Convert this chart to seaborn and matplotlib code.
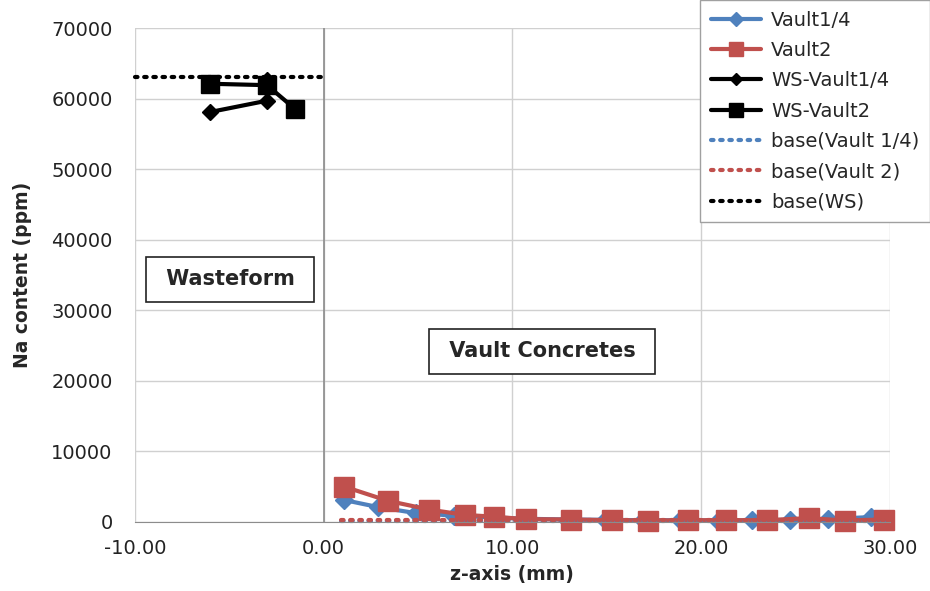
import pandas as pd
import matplotlib.pyplot as plt
import seaborn as sns
import numpy as np

# series
vault14_x = [1.1, 2.9, 4.9, 6.9, 8.9, 10.8, 12.9, 14.9, 16.9, 18.9, 20.9, 22.7, 24.7, 26.7, 29.0]
vault14_y = [3100, 2100, 1250, 900, 650, 450, 350, 300, 250, 250, 200, 250, 300, 400, 700]
vault2_x = [1.1, 3.4, 5.6, 7.5, 9.0, 10.7, 13.1, 15.3, 17.2, 19.3, 21.3, 23.5, 25.7, 27.6, 29.7]
vault2_y = [5000, 3000, 1750, 1000, 750, 400, 350, 250, 200, 250, 250, 250, 550, 200, 350]
ws14_x = [-6.0, -3.0, -3.0]
ws14_y = [58100, 59700, 62700]
ws2_x = [-6.0, -3.0, -1.5]
ws2_y = [62100, 61900, 58500]
base_v14_x = [0.9, 29.7]
base_v14_y = [150, 150]
base_v2_x = [0.9, 29.7]
base_v2_y = [250, 250]
base_ws_x = [-10.0, 0.2]
base_ws_y = [63100, 63100]

x_ticks = [-10, 0, 10, 20, 30]
y_ticks = [0, 10000, 20000, 30000, 40000, 50000, 60000, 70000]

BLUE = "#4F81BD"
RED = "#C0504D"

sns.set_style("white")
plt.rcParams["font.family"] = ["DejaVu Sans"]

fig = plt.figure(figsize=(9.3, 5.91), dpi=100)
ax = fig.add_axes([0.145, 0.1168, 0.812, 0.8358])


def draw(xs, ys, label, color, marker=None, ms=0, lw=3, ls="-"):
    df = pd.DataFrame({"x": xs, "y": ys})
    kw = dict(marker=marker, markersize=ms, markeredgecolor=color,
              markeredgewidth=1) if marker else {}
    sns.lineplot(data=df, x="x", y="y", sort=False, estimator=None, ax=ax,
                 color=color, linewidth=lw, linestyle=ls, label=label, **kw)


dots = (0, (0.6, 1.6))
draw(vault14_x, vault14_y, "Vault1/4", BLUE, "D", 9)
draw(vault2_x, vault2_y, "Vault2", RED, "s", 14)
draw(ws14_x, ws14_y, "WS-Vault1/4", "black", "D", 8.5)
draw(ws2_x, ws2_y, "WS-Vault2", "black", "s", 13)
draw(base_v14_x, base_v14_y, "base(Vault 1/4)", BLUE, ls=dots)
draw(base_v2_x, base_v2_y, "base(Vault 2)", RED, ls=dots)
draw(base_ws_x, base_ws_y, "base(WS)", "black", ls=dots)

for ln in ax.get_lines():
    ln.set_dash_capstyle("round")
    ln.set_clip_on(False)

ax.set_xlim(-10, 30)
ax.set_ylim(0, 70000)
ax.set_xticks(x_ticks)
ax.set_xticklabels([f"{v:.2f}" for v in x_ticks])
ax.set_yticks(y_ticks)
ax.set_yticklabels([str(v) for v in y_ticks])
ax.tick_params(axis="both", labelsize=14, colors="#222222", length=0)
ax.tick_params(axis="x", pad=12)
ax.tick_params(axis="y", pad=16)
ax.grid(True, color="#D0D0D0", linewidth=1)
ax.set_axisbelow(True)
ax.axvline(0, color="#8C8C8C", linewidth=1.2, zorder=1)
for s in ax.spines.values():
    s.set_visible(False)
ax.spines["bottom"].set_visible(True)
ax.spines["bottom"].set_color("#8C8C8C")

ax.set_xlabel("z-axis (mm)", fontsize=13.5, fontweight="bold", labelpad=5)
ax.set_ylabel("Na content (ppm)", fontsize=13.5, fontweight="bold", labelpad=14)

box = dict(boxstyle="square,pad=0.6", facecolor="white", edgecolor="#222222", linewidth=1.2)
ax.text(-4.95, 34430, " Wasteform ", ha="center", va="center", fontsize=15,
        fontweight="bold", bbox=box)
ax.text(11.58, 24160, " Vault Concretes ", ha="center", va="center", fontsize=15,
        fontweight="bold", bbox=box)

leg = ax.legend(loc="upper right", bbox_to_anchor=(1.0, 1.0), bbox_transform=fig.transFigure,
                borderaxespad=0, fancybox=False, framealpha=1, edgecolor="#A0A0A0",
                fontsize=14, handlelength=2.6, labelspacing=0.58, borderpad=0.55,
                handletextpad=0.5, markerscale=0.75)
leg.get_frame().set_linewidth(1)

fig.savefig("out.png", dpi=100)
